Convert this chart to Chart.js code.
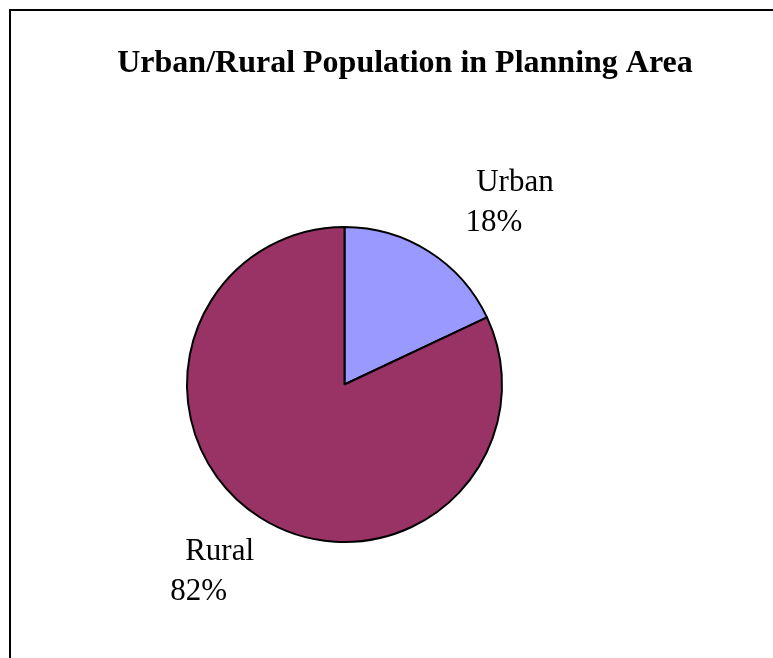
<!DOCTYPE html>
<html lang="en">

<head>
  <meta charset="UTF-8">
  <meta name="viewport" content="width=device-width, initial-scale=1.0">
  <title>Urban/Rural Population</title>
  <script src="https://cdn.jsdelivr.net/npm/chart.js"></script>
  <style>
    body { margin: 0; background: #fff; overflow: hidden; }
    #wrap { position: relative; width: 773px; height: 658px; }
    #frame {
      position: absolute; left: 9px; top: 9px; width: 800px; height: 700px;
      border-top: 2px solid #000; border-left: 2px solid #000; box-sizing: border-box;
    }
  </style>
</head>

<body>
  <div id="wrap">
    <div id="frame"></div>
    <canvas id="pieChart"></canvas>
  </div>
</body>

</html>
<script>
  const chartTitle = 'Urban/Rural Population in Planning Area';
  const categories = ['Urban', 'Rural'];
  const shares = [18, 82];
  const sliceColors = ['#9999FF', '#993366'];

  // draws title and the two-line slice labels next to each arc
  const labelPlugin = {
    id: 'pieLabels',
    afterDraw(chart, args, opts) {
      const c = chart.ctx;
      c.save();
      c.fillStyle = '#000';
      c.textAlign = 'center';
      c.textBaseline = 'alphabetic';
      c.font = 'bold 32px "Liberation Serif", "Times New Roman", serif';
      c.fillText(chartTitle, opts.titleX, opts.titleY);

      c.font = '31px "Liberation Serif", "Times New Roman", serif';
      const meta = chart.getDatasetMeta(0);
      const total = shares.reduce((a, b) => a + b, 0);
      meta.data.forEach((arc, i) => {
        const mid = (arc.startAngle + arc.endAngle) / 2;
        const d = arc.outerRadius * 1.48;
        const off = opts.offsets[i];
        const x = arc.x + Math.cos(mid) * d + off.x;
        const y = arc.y + Math.sin(mid) * d + off.y;
        const pct = Math.round(shares[i] / total * 100) + '%';
        c.fillText(categories[i], x + 10.5, y - 20);
        c.fillText(pct, x - 10.5, y + 20);
      });
      c.restore();
    }
  };

  const ctx = document.getElementById('pieChart');

  new Chart(ctx, {
    type: 'pie',
    data: {
      labels: categories,
      datasets: [{
        data: shares,
        backgroundColor: sliceColors,
        borderColor: '#000',
        borderWidth: 2
      }]
    },
    options: {
      responsive: true,
      maintainAspectRatio: false,
      animation: false,
      layout: {
        padding: { left: 186, right: 270, top: 226, bottom: 115 }
      },
      plugins: {
        legend: { display: false },
        tooltip: { enabled: false },
        pieLabels: {
          titleX: 405,
          titleY: 72,
          offsets: [{ x: 35, y: 23 }, { x: -10.5, y: -1 }]
        }
      }
    },
    plugins: [labelPlugin]
  });
</script>
